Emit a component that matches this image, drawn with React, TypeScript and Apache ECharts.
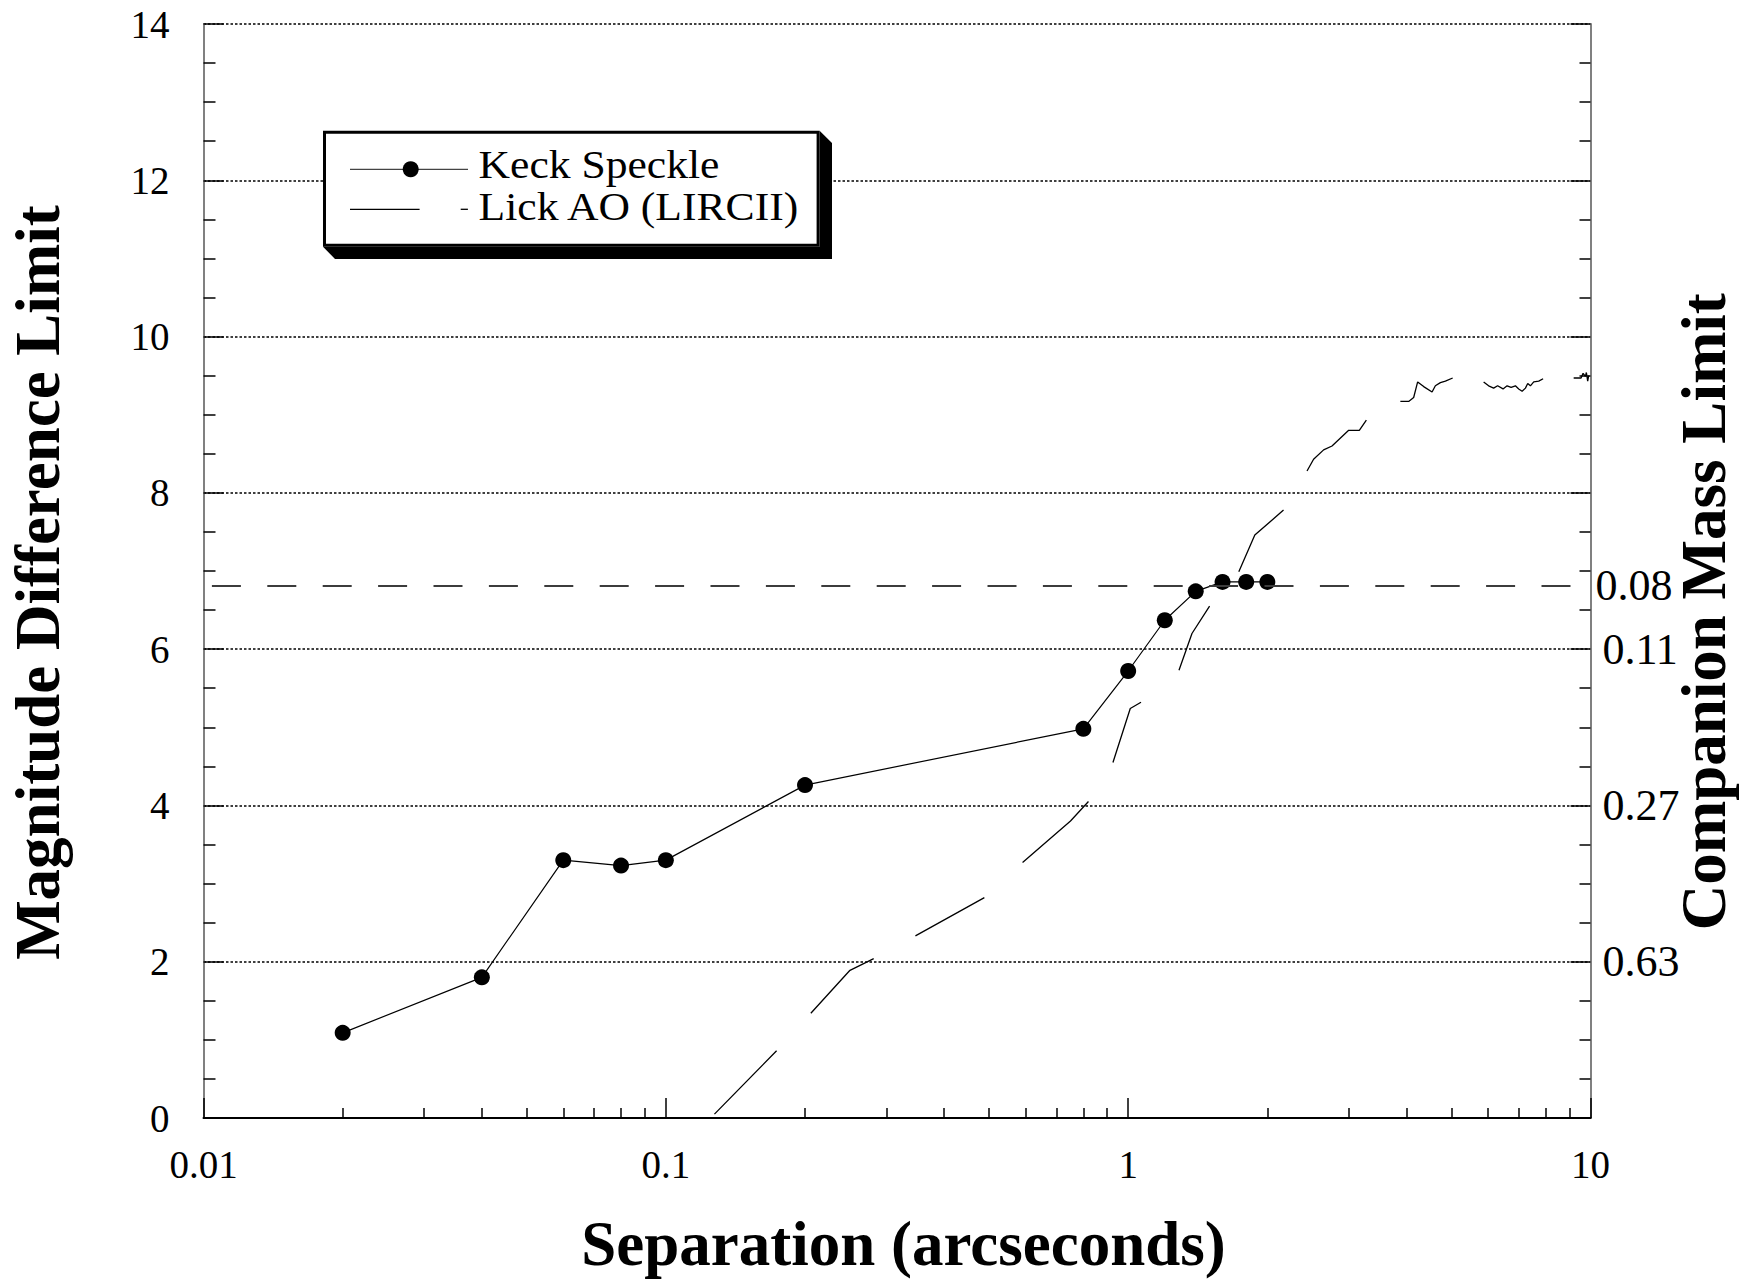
import React, { useEffect, useRef } from "react";
import * as echarts from "echarts";

// ---------- data ----------
const keckSeparation = [0.02, 0.04, 0.06, 0.08, 0.1, 0.2, 0.8, 1.0, 1.2, 1.4, 1.6, 1.8, 2.0];
const keckDeltaMag = [1.09, 1.8, 3.3, 3.23, 3.3, 4.26, 4.98, 5.72, 6.37, 6.74, 6.86, 6.86, 6.86];

// Lick AO (LIRCII) curve, visible dashes only: [separation, deltaMag]
const lickSegments: number[][][] = [
  [[0.1274, 0.05], [0.1736, 0.86]],
  [[0.2059, 1.34], [0.2502, 1.89], [0.2816, 2.04]],
  [[0.3466, 2.33], [0.4886, 2.82]],
  [[0.591, 3.27], [0.7504, 3.8], [0.8206, 4.05]],
  [[0.927, 4.55], [1.0105, 5.24], [1.066, 5.32]],
  [[1.288, 5.73], [1.374, 6.2], [1.5, 6.55]],
  [[1.735, 6.99], [1.879, 7.46], [2.168, 7.78]],
  [[2.437, 8.28], [2.518, 8.43], [2.647, 8.55], [2.76, 8.6], [2.999, 8.8], [3.162, 8.8], [3.275, 8.93]],
  [[3.879, 9.17], [4.043, 9.17], [4.145, 9.22], [4.228, 9.42], [4.357, 9.36], [4.543, 9.29], [4.618, 9.37], [4.735, 9.41], [4.854, 9.43], [5.034, 9.47]],
  [[5.873, 9.42], [6.021, 9.37], [6.173, 9.34], [6.297, 9.37], [6.469, 9.33], [6.601, 9.37], [6.734, 9.35], [6.88, 9.37], [6.994, 9.33], [7.114, 9.3], [7.232, 9.34], [7.315, 9.4], [7.414, 9.37], [7.537, 9.42], [7.727, 9.43], [7.898, 9.46]],
  [[9.196, 9.47], [9.542, 9.47], [9.637, 9.53], [9.748, 9.49], [9.797, 9.54], [9.861, 9.43], [9.91, 9.5]],
];

// stellar / substellar boundary (0.08 solar masses)
const stellarLimitMag = 6.81;
const stellarLimitMassLabel = "0.08";

// right axis: companion mass at given magnitude difference
const massTickMags = [2, 4, 6];
const massTickLabels = ["0.63", "0.27", "0.11"];

// axis ranges
const xMin = 0.01;
const xMax = 10;
const yMin = 0;
const yMax = 14;
const yInterval = 2;
const decadeStarts = [0.01, 0.1, 1];
const minorMultipliers = [2, 3, 4, 5, 6, 7, 8, 9];

const seriesNames = ["Keck Speckle", "Lick AO (LIRCII)"];
const titles = {
  x: "Separation (arcseconds)",
  yLeft: "Magnitude Difference Limit",
  yRight: "Companion Mass Limit",
};

// ---------- derived ----------
const keckData = keckSeparation.map((s, i) => [s, keckDeltaMag[i]]);
const lickData: (number | string)[][] = [];
lickSegments.forEach((seg, i) => {
  if (i > 0) lickData.push(["-", "-"]);
  seg.forEach((p) => lickData.push(p));
});
const minorTickLog: number[] = [];
decadeStarts.forEach((d) =>
  minorMultipliers.forEach((m) => minorTickLog.push(Math.log10(d * m)))
);

const FONT = "Liberation Serif";
const Z = 100;

const titleStyle = (text: string) => ({
  text,
  fontFamily: FONT,
  fontSize: 63,
  fontWeight: "bold",
  fill: "#000",
  textAlign: "center",
  textVerticalAlign: "middle",
  verticalAlign: "middle",
});

const legendTextStyle = (text: string) => ({
  text,
  fontFamily: FONT,
  fontSize: 40,
  lineHeight: 40,
  fill: "#000",
  textAlign: "left",
  textVerticalAlign: "middle",
  verticalAlign: "middle",
});

const option: any = {
  animation: false,
  backgroundColor: "#ffffff",
  grid: { left: 203.5, right: 172.5, top: 24, bottom: 165, containLabel: false },
  xAxis: [
    {
      type: "log",
      logBase: 10,
      min: xMin,
      max: xMax,
      position: "bottom",
      axisLine: { show: true, onZero: false, lineStyle: { color: "#000", width: 2 } },
      axisTick: { show: true, inside: true, length: 20, lineStyle: { color: "#000", width: 1.5 } },
      minorTick: { show: false },
      splitLine: { show: false },
      axisLabel: {
        show: true,
        margin: 27,
        fontSize: 39,
        fontFamily: FONT,
        color: "#000",
        formatter: (v: number) => String(Number(v.toPrecision(6))),
      },
    },
    {
      type: "value",
      min: Math.log10(xMin),
      max: Math.log10(xMax),
      position: "bottom",
      axisLine: { show: false, onZero: false },
      axisLabel: { show: false },
      splitLine: { show: false },
      axisTick: {
        show: true,
        inside: true,
        length: 10,
        customValues: minorTickLog,
        lineStyle: { color: "#000", width: 1.5 },
      },
    },
  ],
  yAxis: [
    {
      type: "value",
      min: yMin,
      max: yMax,
      interval: yInterval,
      position: "left",
      axisLine: { show: true, onZero: false, lineStyle: { color: "#808080", width: 2 } },
      axisTick: { show: true, inside: true, length: 20, lineStyle: { color: "#000", width: 1.5 } },
      minorTick: { show: true, splitNumber: 4, length: 12, lineStyle: { color: "#000", width: 1.5 } },
      splitLine: { show: true, lineStyle: { color: "#000", width: 1.6, type: [2.5, 2] } },
      axisLabel: { margin: 34, fontSize: 39, fontFamily: FONT, color: "#000" },
    },
    {
      type: "value",
      min: yMin,
      max: yMax,
      interval: yInterval,
      position: "right",
      axisLine: { show: true, onZero: false, lineStyle: { color: "#808080", width: 2 } },
      axisTick: { show: true, inside: true, length: 20, lineStyle: { color: "#000", width: 1.5 } },
      minorTick: { show: true, splitNumber: 4, length: 11, lineStyle: { color: "#000", width: 1.5 } },
      splitLine: { show: false },
      axisLabel: {
        margin: 12,
        fontSize: 44,
        fontFamily: FONT,
        color: "#000",
        formatter: (v: number) => {
          const i = massTickMags.indexOf(v);
          return i >= 0 ? massTickLabels[i] : "";
        },
      },
    },
  ],
  series: [
    {
      name: seriesNames[0],
      type: "line",
      xAxisIndex: 0,
      yAxisIndex: 0,
      data: keckData,
      symbol: "circle",
      symbolSize: 16,
      itemStyle: { color: "#000" },
      lineStyle: { color: "#000", width: 1.2 },
      emphasis: { disabled: true },
      z: 3,
      markLine: {
        silent: true,
        symbol: ["none", "none"],
        data: [{ yAxis: stellarLimitMag }],
        lineStyle: { color: "#3c3c3c", width: 2, type: [29, 26.4], dashOffset: 47.2 },
        label: {
          show: true,
          position: "end",
          formatter: stellarLimitMassLabel,
          fontSize: 44,
          fontFamily: FONT,
          color: "#000",
          distance: 5,
        },
        emphasis: { disabled: true },
      },
    },
    {
      name: seriesNames[1],
      type: "line",
      xAxisIndex: 0,
      yAxisIndex: 0,
      data: lickData,
      symbol: "none",
      showSymbol: false,
      connectNulls: false,
      lineStyle: { color: "#000", width: 1.3 },
      emphasis: { disabled: true },
      z: 2,
    },
  ],
  graphic: [
    // legend box with extruded shadow
    {
      type: "polygon",
      z: Z,
      shape: { points: [[323, 246.7], [335, 259], [832, 259], [832, 143], [819.6, 130.7], [819.6, 246.7]] },
      style: { fill: "#000" },
    },
    {
      type: "rect",
      z: Z,
      shape: { x: 324.5, y: 132.2, width: 493.6, height: 113 },
      style: { fill: "#fff", stroke: "#000", lineWidth: 3 },
    },
    {
      type: "line",
      z: Z + 1,
      shape: { x1: 350, y1: 169.3, x2: 468, y2: 169.3 },
      style: { stroke: "#444", lineWidth: 1.3 },
    },
    {
      type: "circle",
      z: Z + 2,
      shape: { cx: 410.7, cy: 169.3, r: 8 },
      style: { fill: "#000" },
    },
    { type: "text", z: Z + 1, x: 478.6, y: 165, scaleX: 1.09, style: legendTextStyle(seriesNames[0]) },
    {
      type: "line",
      z: Z + 1,
      shape: { x1: 350, y1: 209.3, x2: 419.6, y2: 209.3 },
      style: { stroke: "#000", lineWidth: 1.3 },
    },
    {
      type: "line",
      z: Z + 1,
      shape: { x1: 460.7, y1: 209.3, x2: 467.9, y2: 209.3 },
      style: { stroke: "#000", lineWidth: 1.3 },
    },
    { type: "text", z: Z + 1, x: 478.6, y: 207, scaleX: 1.09, style: legendTextStyle(seriesNames[1]) },
    // axis titles
    { type: "text", z: Z, x: 38, y: 582.5, rotation: Math.PI / 2, style: titleStyle(titles.yLeft) },
    { type: "text", z: Z, x: 1704, y: 611.7, rotation: Math.PI / 2, style: titleStyle(titles.yRight) },
    { type: "text", z: Z, x: 903.5, y: 1244, style: titleStyle(titles.x) },
  ],
};

export default function App() {
  const ref = useRef<HTMLDivElement>(null);
  useEffect(() => {
    if (!ref.current) return;
    const chart = echarts.init(ref.current, null, { renderer: "svg" });
    chart.setOption(option);
    return () => chart.dispose();
  }, []);
  return (
    <div
      ref={ref}
      style={{ position: "absolute", left: 0, top: 0, width: 1763, height: 1283, background: "#fff" }}
    />
  );
}
